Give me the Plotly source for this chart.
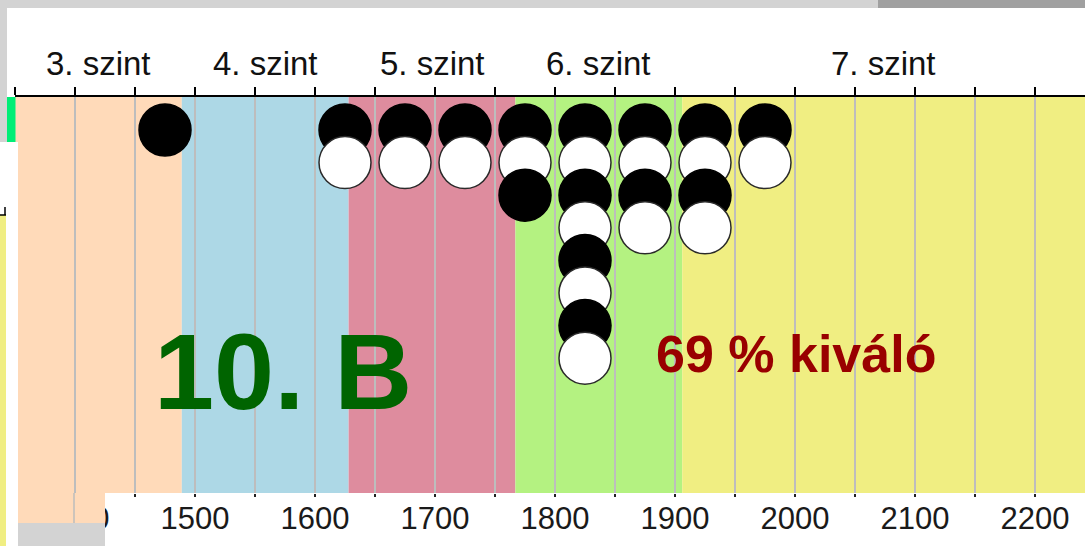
import plotly.graph_objects as go

# ---------------- data ----------------
band_edges = [1350, 1489, 1628, 1767, 1906, 2250]
band_colors = ['#FFDAB9', '#ADD8E6', '#DE8C9E', '#B4F281', '#F0EE82']
level_labels = ['3. szint', '4. szint', '5. szint', '6. szint', '7. szint']

bin_centers = [1475, 1625, 1675, 1725, 1775, 1825, 1875, 1925, 1975]
counts = [1, 2, 2, 2, 3, 8, 4, 4, 2]

tick_vals = [1400, 1500, 1600, 1700, 1800, 1900, 2000, 2100, 2200]
tick_text = ['1400', '1500', '1600', '1700', '1800', '1900', '2000', '2100', '2200']

class_label = '10. B'
excellent_label = '69 % kiváló'

# ---------------- geometry ----------------
W, H = 1085, 546
ML, MT, MR, MB = 15, 97, 0, 53
PW, PH = W - ML - MR, H - MT - MB
X_MIN = 1350
X_MAX = X_MIN + PW / 1.2


def pxx(p):
    return (p - ML) / PW


def pxy(p):
    return (H - MB - p) / PH


FONT = 'Liberation Sans, Arial, sans-serif'

# ---------------- dots ----------------
xs, ys, fills, lines = [], [], [], []
for c, n in zip(bin_centers, counts):
    for k in range(1, n + 1):
        xs.append(c)
        ys.append(k)
        if k % 2 == 1:
            fills.append('#000000')
            lines.append('#000000')
        else:
            fills.append('#FFFFFF')
            lines.append('#2a2a2a')

fig = go.Figure()
fig.add_trace(go.Scatter(
    x=xs, y=ys, mode='markers', xaxis='x', yaxis='y',
    marker=dict(size=52, color=fills, line=dict(color=lines, width=1.5)),
    hoverinfo='skip', showlegend=False, cliponaxis=False))
fig.add_trace(go.Scatter(x=[X_MIN], y=[0], xaxis='x2', yaxis='y', mode='markers',
                         marker=dict(opacity=0), showlegend=False, hoverinfo='skip'))

shapes = []
for i, col in enumerate(band_colors):
    shapes.append(dict(type='rect', xref='x', yref='paper', x0=band_edges[i], x1=band_edges[i + 1],
                       y0=0, y1=1, fillcolor=col, line=dict(width=0), layer='below'))


def prect(x0, y0, x1, y1, color):
    shapes.append(dict(type='rect', xref='paper', yref='paper', x0=pxx(x0), x1=pxx(x1),
                       y0=pxy(y1), y1=pxy(y0), fillcolor=color, line=dict(width=0), layer='above'))


def pline(x0, y0, x1, y1, color, w):
    shapes.append(dict(type='line', xref='paper', yref='paper', x0=pxx(x0), x1=pxx(x1),
                       y0=pxy(y0), y1=pxy(y1), line=dict(color=color, width=w), layer='above'))


GRAY = '#d3d3d3'
prect(0, 0, 1085, 8, GRAY)
prect(878, 0, 1085, 8, '#a0a0a0')
prect(0, 0, 7, 142, GRAY)
prect(7, 97, 15.5, 142, '#00EE76')
prect(0, 142, 18, 546, '#FFFFFF')
prect(0, 215, 6, 546, '#F0EE82')
pline(0, 215, 6, 215, '#000000', 1.5)
pline(5, 207, 5, 215, '#000000', 1.5)
prect(18, 493, 105, 523, '#FFDAB9')
pline(74, 493, 74, 523, '#BDBDBD', 1.5)
prect(18, 523, 105, 546, GRAY)

annotations = []
for i, lab in enumerate(level_labels):
    x0 = band_edges[i]
    x1 = min(band_edges[i + 1], X_MAX)
    annotations.append(dict(x=(x0 + x1) / 2, y=pxy(63), xref='x', yref='paper', text=lab,
                            showarrow=False, font=dict(family=FONT, size=33, color='#111111'),
                            xanchor='center', yanchor='middle'))
annotations.append(dict(x=1573, y=pxy(371), xref='x', yref='paper', text='<b>' + class_label + '</b>',
                        showarrow=False, font=dict(family=FONT, size=108, color='#006400'),
                        xanchor='center', yanchor='middle'))
annotations.append(dict(x=2001, y=pxy(354), xref='x', yref='paper', text='<b>' + excellent_label + '</b>',
                        showarrow=False, font=dict(family=FONT, size=52, color='#990000'),
                        xanchor='center', yanchor='middle'))

fig.update_layout(
    width=W, height=H,
    margin=dict(l=ML, r=MR, t=MT, b=MB, pad=0),
    paper_bgcolor='#FFFFFF', plot_bgcolor='rgba(0,0,0,0)',
    showlegend=False,
    xaxis=dict(range=[X_MIN, X_MAX], tickvals=tick_vals, ticktext=tick_text,
               ticks='outside', ticklen=3, tickwidth=2, tickcolor='#222222',
               tickfont=dict(family=FONT, size=31, color='#1a1a1a'),
               ticklabelstandoff=-5,
               showgrid=True, gridcolor='#BDBDBD', gridwidth=1.5,
               minor=dict(dtick=50, tick0=1350, ticks='outside', ticklen=3, tickcolor='#222222',
                          showgrid=True, gridcolor='#BDBDBD', gridwidth=1.5),
               showline=False, zeroline=False),
    xaxis2=dict(range=[X_MIN, X_MAX], overlaying='x', side='top', anchor='y',
                tick0=1350, dtick=50, ticks='outside', ticklen=8, tickwidth=2, tickcolor='#000000',
                showticklabels=False, showgrid=False, showline=True, linecolor='#000000',
                linewidth=2, zeroline=False),
    yaxis=dict(range=[12.135, -0.012], visible=False, showgrid=False, zeroline=False),
    shapes=shapes,
    annotations=annotations,
)

fig.write_html('out.html', config={'displayModeBar': False},
               post_script="document.body.style.margin='0';document.body.style.padding='0';")
